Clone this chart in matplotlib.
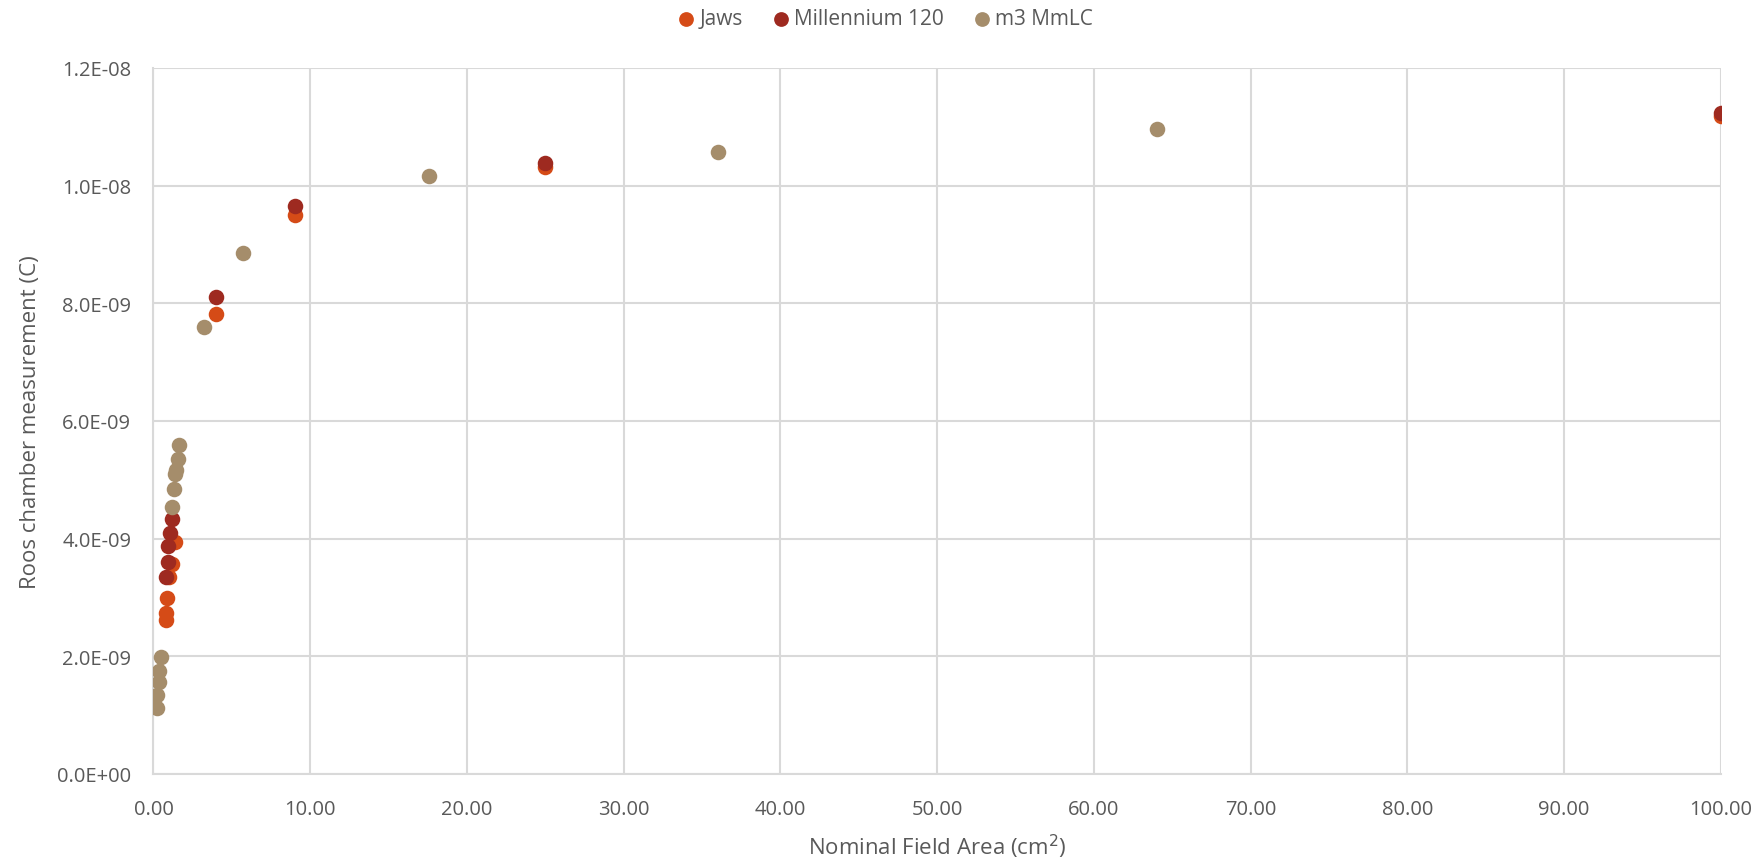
import numpy as np
import matplotlib
matplotlib.use("Agg")
import matplotlib.pyplot as plt
from matplotlib.ticker import FuncFormatter, MultipleLocator

plt.rcParams['font.family'] = ['Open Sans', 'DejaVu Sans']

# field area (cm^2) and chamber reading (C)
jaws_x = [0.78, 0.80, 0.88, 1.00, 1.16, 1.37, 4.0, 9.0, 25.0, 100.0]
jaws_y = [2.62e-9, 2.74e-9, 2.99e-9, 3.34e-9, 3.57e-9, 3.94e-9, 7.82e-9, 9.50e-9, 10.31e-9, 11.19e-9]

mlc_x = [0.80, 0.90, 0.95, 1.05, 1.16, 4.0, 9.0, 25.0, 100.0]
mlc_y = [3.35e-9, 3.60e-9, 3.88e-9, 4.09e-9, 4.33e-9, 8.11e-9, 9.66e-9, 10.39e-9, 11.24e-9]

m3_x = [0.20, 0.24, 0.35, 0.35, 0.46, 1.16, 1.29, 1.39, 1.42, 1.54, 1.63, 3.2, 5.71, 17.58, 36.0, 64.0]
m3_y = [1.12e-9, 1.34e-9, 1.56e-9, 1.755e-9, 1.98e-9, 4.53e-9, 4.84e-9, 5.10e-9, 5.16e-9, 5.36e-9,
        5.59e-9, 7.60e-9, 8.85e-9, 10.17e-9, 10.58e-9, 10.97e-9]

c_jaws = '#D54B17'
c_mlc = '#9E2A20'
c_m3 = '#A58D6B'
txt = '#595959'
grid = '#D9D9D9'

fig = plt.figure(figsize=(17.62, 8.62), dpi=100)
ax = fig.add_axes([0.0871, 0.101, 0.8895, 0.819])

ax.scatter(jaws_x, jaws_y, s=125, color=c_jaws, label='Jaws', zorder=3, linewidths=0)
ax.scatter(mlc_x, mlc_y, s=125, color=c_mlc, label='Millennium 120', zorder=3, linewidths=0)
ax.scatter(m3_x, m3_y, s=125, color=c_m3, label='m3 MmLC', zorder=3, linewidths=0)

ax.set_xlim(0, 100)
ax.set_ylim(0, 1.2e-8)
ax.xaxis.set_major_locator(MultipleLocator(10))
ax.yaxis.set_major_locator(MultipleLocator(2e-9))
ax.xaxis.set_major_formatter(FuncFormatter(lambda v, p: f"{v:.2f}"))
ax.yaxis.set_major_formatter(FuncFormatter(lambda v, p: f"{v:.1E}"))

ax.grid(True, color=grid, linewidth=1.5, zorder=0)
ax.set_axisbelow(True)
for s in ['top', 'right']:
    ax.spines[s].set_visible(False)
for s in ['left', 'bottom']:
    ax.spines[s].set_color(grid)
    ax.spines[s].set_linewidth(1.5)
ax.tick_params(length=0, labelsize=14.5, colors=txt)
ax.tick_params(axis='y', pad=16)
ax.tick_params(axis='x', pad=18)

ax.set_xlabel('Nominal Field Area (cm$^2$)', fontsize=16, color=txt)
ax.set_ylabel('Roos chamber measurement (C)', fontsize=16, color=txt)
ax.xaxis.set_label_coords(0.5, -0.082)
ax.yaxis.set_label_coords(-0.0715, 0.5)

fig.legend(loc='upper center', bbox_to_anchor=(0.502, 1.011), ncol=3, frameon=False,
           fontsize=15, labelcolor=txt, handletextpad=0.15, columnspacing=1.3,
           handlelength=1.0, markerscale=0.95)

fig.savefig('out.png', dpi=100)
